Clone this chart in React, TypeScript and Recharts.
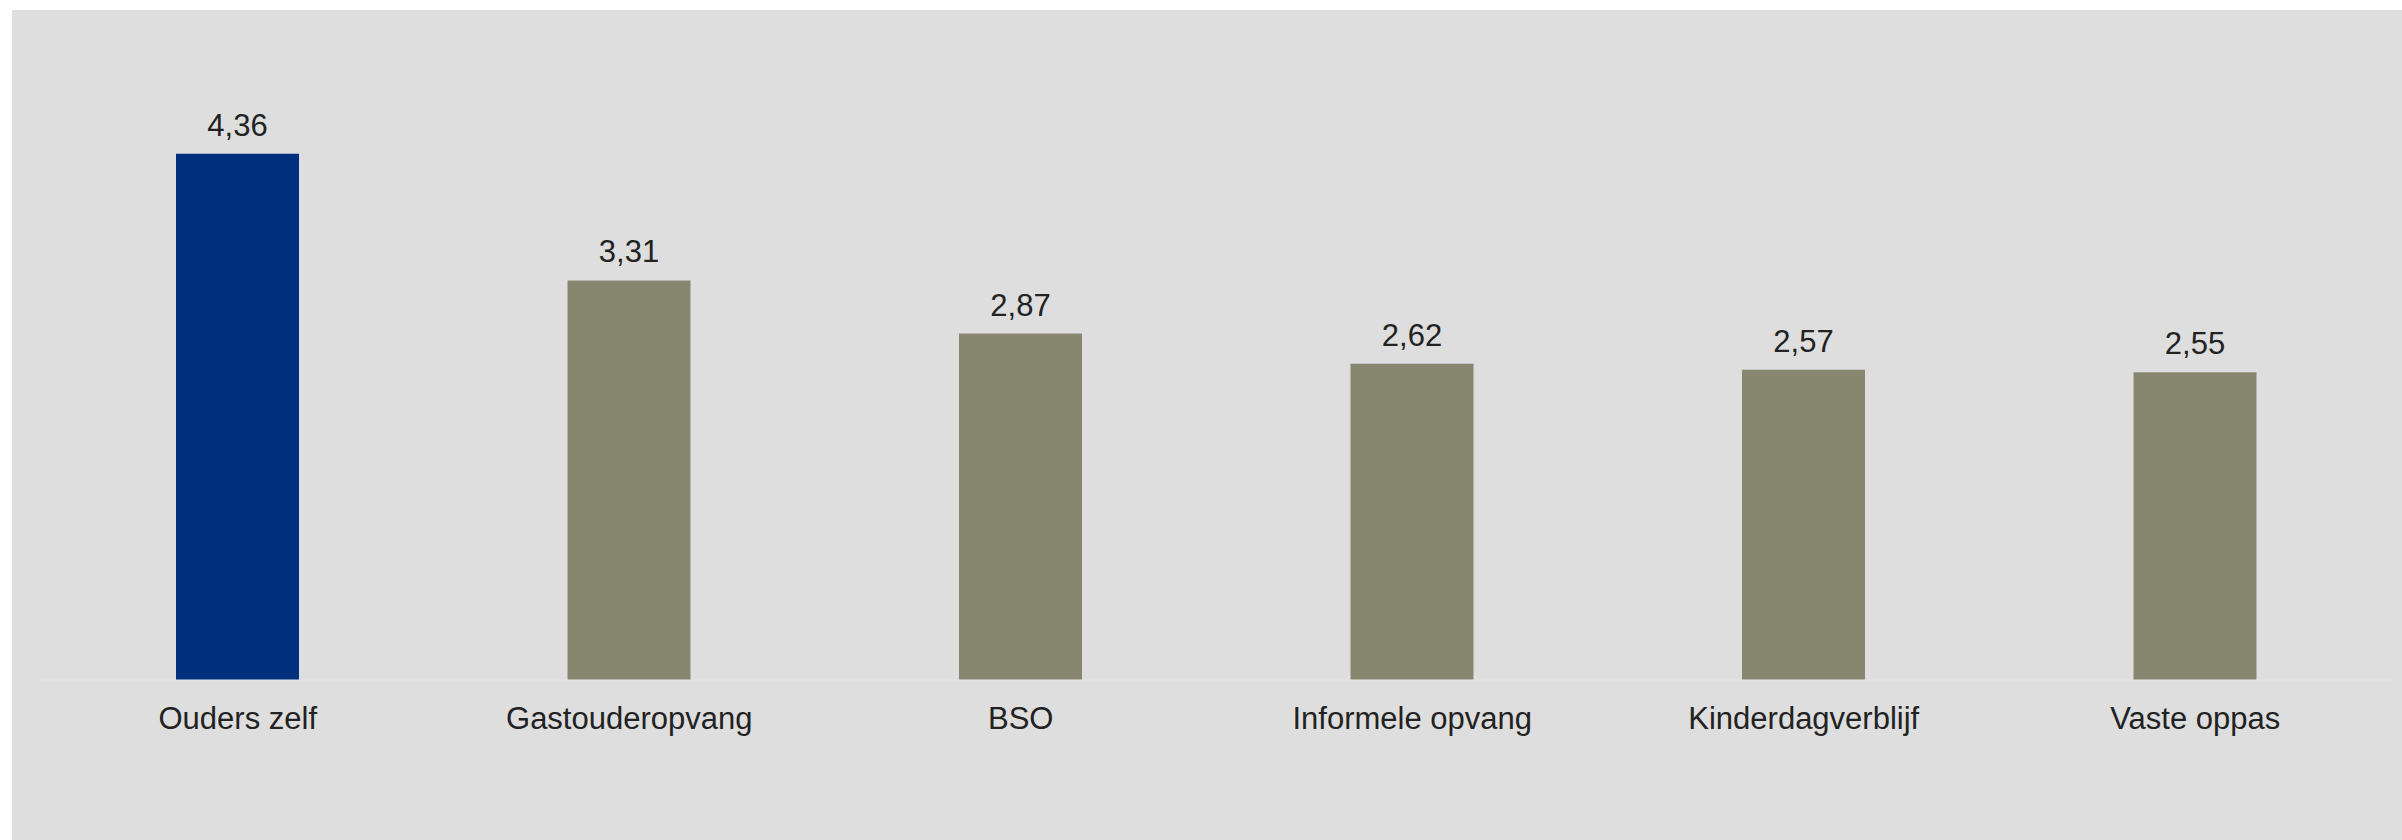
import React from 'react';
import { BarChart, Bar, XAxis, YAxis, Cell, LabelList } from 'recharts';

const categories = ['Ouders zelf', 'Gastouderopvang', 'BSO', 'Informele opvang', 'Kinderdagverblijf', 'Vaste oppas'];
const values = [4.36, 3.31, 2.87, 2.62, 2.57, 2.55];
const barColors = ['#002f7e', '#878770', '#878770', '#878770', '#878770', '#878770'];

const data = categories.map((name, i) => ({ name, value: values[i] }));

const FONT = '"Liberation Sans", Arial, Helvetica, sans-serif';

export default function App() {
  return (
    <div
      style={{
        position: 'fixed',
        left: 12,
        top: 10,
        width: 2390,
        height: 830,
        background: '#dedede',
        fontFamily: FONT,
      }}
    >
      <BarChart
        width={2390}
        height={830}
        data={data}
        margin={{ top: 66.5, right: 11, left: 30, bottom: 0 }}
        barCategoryGap={0}
      >
        <XAxis
          dataKey="name"
          interval={0}
          tickLine={false}
          tickSize={0}
          tickMargin={27}
          height={160}
          axisLine={{ stroke: '#e6e6e6', strokeWidth: 1 }}
          tick={{ fontSize: 31, fill: '#222222', fontFamily: FONT }}
        />
        <YAxis hide domain={[0, 5]} />
        <Bar dataKey="value" barSize={123} isAnimationActive={false}>
          {data.map((d, i) => (
            <Cell key={d.name} fill={barColors[i]} />
          ))}
          <LabelList
            dataKey="value"
            position="top"
            offset={18}
            formatter={(v: number) => v.toFixed(2).replace('.', ',')}
            style={{ fontSize: 31, fill: '#222222', fontFamily: FONT }}
          />
        </Bar>
      </BarChart>
    </div>
  );
}
